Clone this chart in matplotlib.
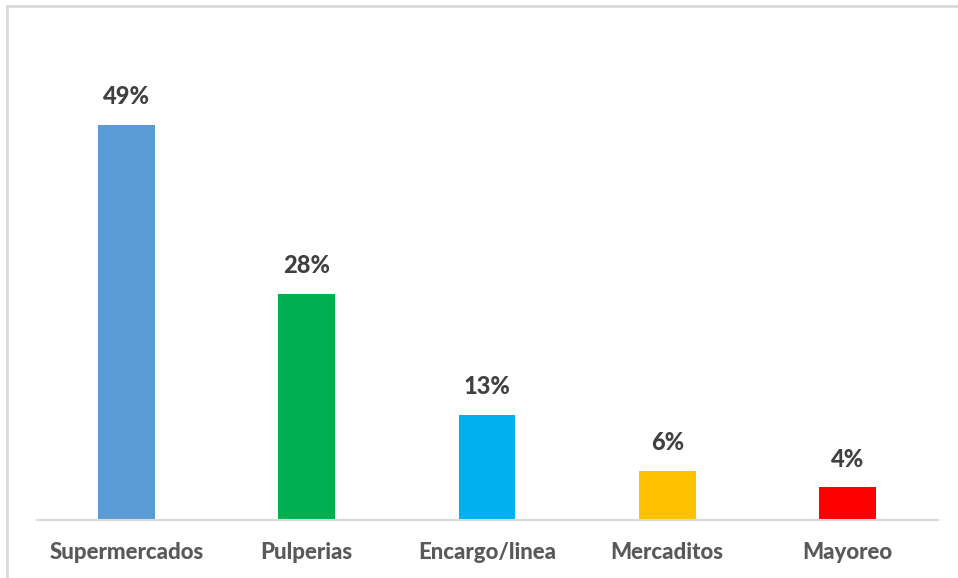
import matplotlib.pyplot as plt
from matplotlib.patches import Rectangle

# channel shares (%)
categories = ['Supermercados', 'Pulperias', 'Encargo/linea', 'Mercaditos', 'Mayoreo']
shares = [49, 28, 13, 6, 4]
colors = ['#5B9BD5', '#00B050', '#00B0F0', '#FFC000', '#FF0000']

plt.rcParams['font.family'] = ['Lato', 'DejaVu Sans']

fig = plt.figure(figsize=(9.58, 5.78), dpi=100)
W, H = 958, 578

# light frame around the chart area
fig.patches.append(Rectangle((7 / W, -0.01), 1.0, 1 - 6 / H + 0.01,
                             transform=fig.transFigure, fill=False,
                             edgecolor='#D9D9D9', linewidth=2))

ax = fig.add_axes([36.5 / W, (H - 519.5) / H, 901 / W, (519.5 - 36) / H])
x = range(len(categories))
bars = ax.bar(x, shares, width=0.316, color=colors, zorder=2)

# value labels above each bar
for xi, v in zip(x, shares):
    ax.annotate(f'{v}%', (xi, v), xytext=(0, 12), textcoords='offset points',
                ha='center', va='bottom', fontsize=17, fontweight='black',
                color='#404040')

ax.set_xlim(-0.5, len(categories) - 0.5)
ax.set_ylim(0, 60)
ax.set_xticks(list(x))
ax.set_xticklabels(categories, fontsize=16, fontweight='black', color='#595959')
ax.tick_params(axis='x', length=0, pad=16)
ax.set_yticks([])
for side in ['top', 'right', 'left']:
    ax.spines[side].set_visible(False)
ax.spines['bottom'].set_color('#D9D9D9')
ax.spines['bottom'].set_linewidth(1.5)

fig.savefig('out.png', dpi=100)
